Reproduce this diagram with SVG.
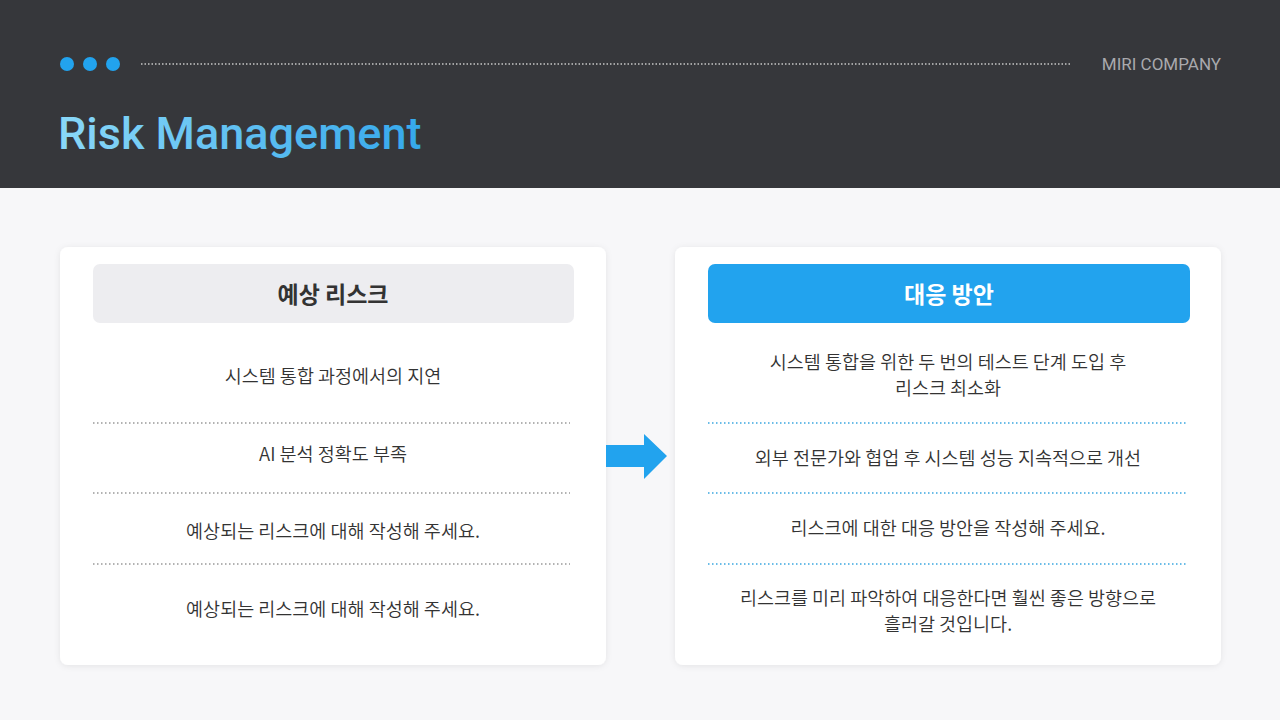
<svg xmlns="http://www.w3.org/2000/svg" width="1280" height="720" viewBox="0 0 1280 720">
<defs>
<linearGradient id="tg" x1="0" x2="1" y1="0" y2="0"><stop offset="0" stop-color="#8ad8f8"/><stop offset="1" stop-color="#35a8ec"/></linearGradient>
<filter id="sh" x="-10%" y="-10%" width="120%" height="120%"><feDropShadow dx="0" dy="1" stdDeviation="3" flood-color="#000" flood-opacity="0.08"/></filter>
<style>
.k{font-family:"Noto Sans CJK KR","Noto Sans",sans-serif}
.b{font-size:18.5px;fill:#333;text-anchor:middle;font-weight:350}
.dl{stroke:#999;stroke-width:1.5;stroke-dasharray:1.5 2.5}
.dr{stroke:#3aa6e0;stroke-width:1.5;stroke-dasharray:1.5 2.5}
</style>
</defs>
<rect width="1280" height="720" fill="#f7f7f9"/>
<rect width="1280" height="188" fill="#36373b"/>
<circle cx="67" cy="64" r="7" fill="#22a3ee"/><circle cx="90" cy="64" r="7" fill="#22a3ee"/><circle cx="113" cy="64" r="7" fill="#22a3ee"/>
<line x1="141" y1="64" x2="1071" y2="64" stroke="#c8c8c8" stroke-width="1.5" stroke-dasharray="1.5 2"/>
<text x="1221" y="70" text-anchor="end" font-family="Roboto,sans-serif" font-size="17" fill="#a9a9ad">MIRI COMPANY</text>
<text x="58" y="149" font-family="Roboto,sans-serif" font-weight="500" font-size="45" fill="url(#tg)">Risk Management</text>
<g id="left">
<rect x="60" y="247" width="546" height="418" rx="8" fill="#fff" filter="url(#sh)"/>
<rect x="93" y="264" width="481" height="59" rx="7" fill="#ededf0"/>
<text class="k" x="333" y="303" text-anchor="middle" font-size="23" font-weight="700" fill="#333">예상 리스크</text>
<text class="k b" x="333" y="383">시스템 통합 과정에서의 지연</text>
<line class="dl" x1="93" y1="423" x2="570" y2="423"/>
<text class="k b" x="333" y="461">AI 분석 정확도 부족</text>
<line class="dl" x1="93" y1="493" x2="570" y2="493"/>
<text class="k b" x="333" y="538">예상되는 리스크에 대해 작성해 주세요.</text>
<line class="dl" x1="93" y1="564" x2="570" y2="564"/>
<text class="k b" x="333" y="616">예상되는 리스크에 대해 작성해 주세요.</text>
</g>
<g id="connectors">
<polygon points="606,445 644,445 644,434 667,456 644,479 644,467 606,467" fill="#22a3ee"/>
</g>
<g id="right">
<rect x="675" y="247" width="546" height="418" rx="8" fill="#fff" filter="url(#sh)"/>
<rect x="708" y="264" width="482" height="59" rx="7" fill="#22a3ee"/>
<text class="k" x="949" y="303" text-anchor="middle" font-size="23" font-weight="700" fill="#fff">대응 방안</text>
<text class="k b" x="948" y="369">시스템 통합을 위한 두 번의 테스트 단계 도입 후</text>
<text class="k b" x="948" y="395">리스크 최소화</text>
<line class="dr" x1="708" y1="423" x2="1186" y2="423"/>
<text class="k b" x="948" y="465">외부 전문가와 협업 후 시스템 성능 지속적으로 개선</text>
<line class="dr" x1="708" y1="493" x2="1186" y2="493"/>
<text class="k b" x="948" y="535">리스크에 대한 대응 방안을 작성해 주세요.</text>
<line class="dr" x1="708" y1="564" x2="1186" y2="564"/>
<text class="k b" x="948" y="605">리스크를 미리 파악하여 대응한다면 훨씬 좋은 방향으로</text>
<text class="k b" x="948" y="631">흘러갈 것입니다.</text>
</g>
</svg>
